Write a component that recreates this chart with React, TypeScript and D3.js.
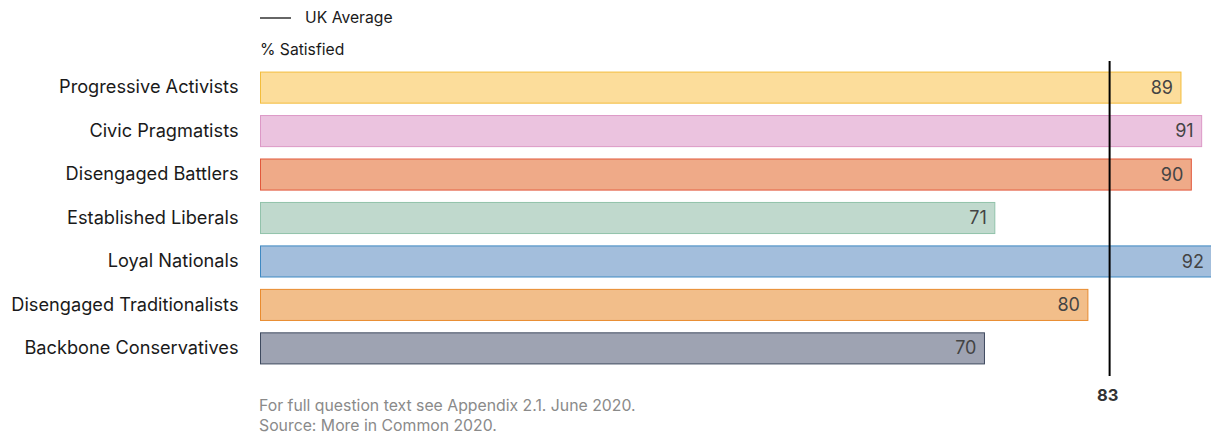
import React, { useRef, useEffect } from "react";
import * as d3 from "d3";

const segments = [
  "Progressive Activists",
  "Civic Pragmatists",
  "Disengaged Battlers",
  "Established Liberals",
  "Loyal Nationals",
  "Disengaged Traditionalists",
  "Backbone Conservatives",
];
const satisfied = [89, 91, 90, 71, 92, 80, 70];
const fills = ["#fcdd9b", "#ebc3df", "#efaa88", "#c0d9cd", "#a3bedc", "#f2be8a", "#9ea3b2"];
const strokes = ["#f3bd3c", "#dc98c6", "#e2583b", "#92c2ab", "#3f89c2", "#e98b2e", "#3e4a5f"];
const ukAverageLabel = "83";
const ukAveragePosition = 82.1;
const footnotes = [
  "For full question text see Appendix 2.1. June 2020.",
  "Source: More in Common 2020.",
];

export default function App() {
  const svgRef = useRef<SVGSVGElement | null>(null);

  useEffect(() => {
    const width = 1211;
    const height = 436;
    const font = "Inter, 'Noto Sans', sans-serif";

    const svg = d3.select(svgRef.current);
    svg.selectAll("*").remove();
    svg.attr("width", width).attr("height", height);

    const x = d3.scaleLinear().domain([0, 92]).range([260.5, 1212]);
    const y = d3
      .scaleBand()
      .domain(segments)
      .range([66, 370])
      .paddingInner(0.285)
      .paddingOuter(0.14);

    const rows = svg
      .append("g")
      .selectAll("g")
      .data(segments)
      .enter()
      .append("g");

    rows
      .append("rect")
      .attr("x", x(0))
      .attr("y", d => y(d) as number)
      .attr("width", (d, i) => x(satisfied[i]) - x(0))
      .attr("height", y.bandwidth())
      .attr("fill", (d, i) => fills[i])
      .attr("stroke", (d, i) => strokes[i])
      .attr("stroke-width", 1);

    // segment names
    rows
      .append("text")
      .attr("x", x(0) - 22)
      .attr("y", d => (y(d) as number) + y.bandwidth() / 2)
      .attr("dy", "0.32em")
      .attr("text-anchor", "end")
      .attr("font-family", font)
      .attr("font-size", 18.2)
      .attr("fill", "#1a1a1a")
      .text(d => d);

    // value labels
    rows
      .append("text")
      .attr("x", (d, i) => x(satisfied[i]) - 8)
      .attr("y", d => (y(d) as number) + y.bandwidth() / 2)
      .attr("dy", "0.34em")
      .attr("text-anchor", "end")
      .attr("font-family", font)
      .attr("font-size", 18)
      .attr("fill", "#444")
      .text((d, i) => satisfied[i]);

    // UK average line
    svg
      .append("line")
      .attr("x1", x(ukAveragePosition))
      .attr("x2", x(ukAveragePosition))
      .attr("y1", 61)
      .attr("y2", 376)
      .attr("stroke", "#000")
      .attr("stroke-width", 2);

    svg
      .append("text")
      .attr("x", x(ukAveragePosition) - 2)
      .attr("y", 401)
      .attr("text-anchor", "middle")
      .attr("font-family", font)
      .attr("font-size", 16.5)
      .attr("font-weight", 700)
      .attr("fill", "#333")
      .text(ukAverageLabel);

    // legend
    svg
      .append("line")
      .attr("x1", 260)
      .attr("x2", 291)
      .attr("y1", 18)
      .attr("y2", 18)
      .attr("stroke", "#000")
      .attr("stroke-width", 1.2);

    svg
      .append("text")
      .attr("x", 305)
      .attr("y", 23)
      .attr("font-family", font)
      .attr("font-size", 15.7)
      .attr("fill", "#1a1a1a")
      .text("UK Average");

    svg
      .append("text")
      .attr("x", 260)
      .attr("y", 55)
      .attr("font-family", font)
      .attr("font-size", 15.7)
      .attr("fill", "#1a1a1a")
      .text("% Satisfied");

    svg
      .append("g")
      .selectAll("text")
      .data(footnotes)
      .enter()
      .append("text")
      .attr("x", 259)
      .attr("y", (d, i) => 411 + i * 20)
      .attr("font-family", font)
      .attr("font-size", 15.8)
      .attr("fill", "#8a8a8a")
      .text(d => d);
  }, []);

  return (
    <div style={{ position: "absolute", left: 0, top: 0 }}>
      <svg ref={svgRef} style={{ display: "block" }}></svg>
    </div>
  );
}
